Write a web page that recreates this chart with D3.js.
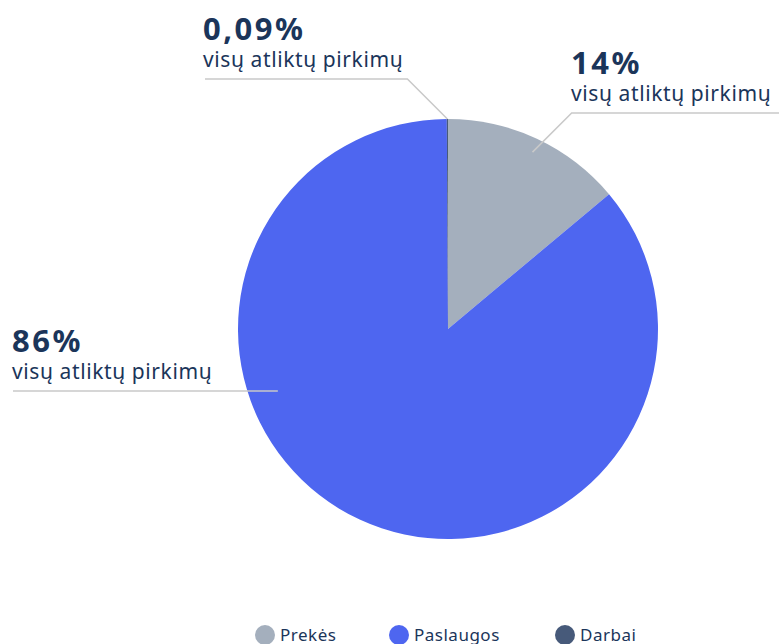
<!DOCTYPE html>
<html lang="lt">
<head>
<meta charset="utf-8">
<title>Pirkimai</title>
<script src="https://d3js.org/d3.v7.min.js"></script>
<style>
  html, body { margin: 0; padding: 0; background: #fff; }
  svg { display: block; font-family: "Noto Sans", sans-serif; }
</style>
</head>
<body>
<div id="chart"></div>
<script>
// data
const categories = ["Prekės", "Paslaugos", "Darbai"];
const values = [13.91, 86.0, 0.09];
const valueLabels = ["14%", "86%", "0,09%"];
const subLabel = "visų atliktų pirkimų";
const colors = ["#a4afbd", "#4e66f0", "#475a7a"];

const width = 779, height = 644;
const cx = 448, cy = 329, radius = 210;

const svg = d3.select("#chart").append("svg")
    .attr("width", width)
    .attr("height", height);

const pie = d3.pie().sort(null).value(d => d.v);
const slices = pie(categories.map((c, i) => ({ name: c, v: values[i], i: i })));

const arc = d3.arc().innerRadius(0).outerRadius(radius);

const g = svg.append("g").attr("transform", `translate(${cx},${cy})`);

g.selectAll("path.slice")
  .data(slices)
  .enter().append("path")
    .attr("class", "slice")
    .attr("d", arc)
    .attr("fill", d => colors[d.data.i]);

// label layout per slice: anchor angle inside slice (fraction), anchor radius, text block
const labelLayout = [
  { frac: 0.51, r: 196, side: "right", elbow: true, lineY: 113, lineX: 779, textX: 571 },
  { frac: 0.646, r: 181, side: "left", elbow: false, lineY: 391, lineX: 13, textX: 12 },
  { frac: 0.5, r: 210, side: "left", elbow: true, lineY: 79, lineX: 205, textX: 203 }
];

const labels = svg.append("g");
slices.forEach((s, k) => {
  const L = labelLayout[k];
  const a = s.startAngle + (s.endAngle - s.startAngle) * L.frac;
  const px = cx + L.r * Math.sin(a);
  const py = cy - L.r * Math.cos(a);
  const pts = [[px, py]];
  if (L.elbow) {
    const dy = Math.abs(L.lineY - py);
    pts.push([px + (L.side === "right" ? 1 : -1) * dy, L.lineY]);
  } else {
    pts[0][1] = L.lineY;
  }
  pts.push([L.lineX, L.lineY]);
  labels.append("polyline")
    .attr("points", pts.map(p => p.join(",")).join(" "))
    .attr("fill", "none")
    .attr("stroke", "#c9c9c9")
    .attr("stroke-width", 1.5);
  labels.append("text")
    .attr("x", L.textX)
    .attr("y", L.lineY - 39)
    .attr("fill", "#1b355a")
    .attr("font-size", 31)
    .attr("font-weight", 700)
    .attr("letter-spacing", 2.5)
    .text(valueLabels[s.data.i]);
  labels.append("text")
    .attr("x", L.textX)
    .attr("y", L.lineY - 12)
    .attr("fill", "#1b355a")
    .attr("font-size", 21)
    .attr("letter-spacing", 0.6)
    .text(subLabel);
});

// legend
const legendX = [265, 399, 565];
const legend = svg.append("g");
categories.forEach((c, i) => {
  legend.append("circle")
    .attr("cx", legendX[i])
    .attr("cy", 635)
    .attr("r", 10)
    .attr("fill", colors[i]);
  legend.append("text")
    .attr("x", legendX[i] + 15)
    .attr("y", 641)
    .attr("fill", "#1b355a")
    .attr("font-size", 17)
    .attr("letter-spacing", 0.5)
    .text(c);
});
</script>
</body>
</html>
